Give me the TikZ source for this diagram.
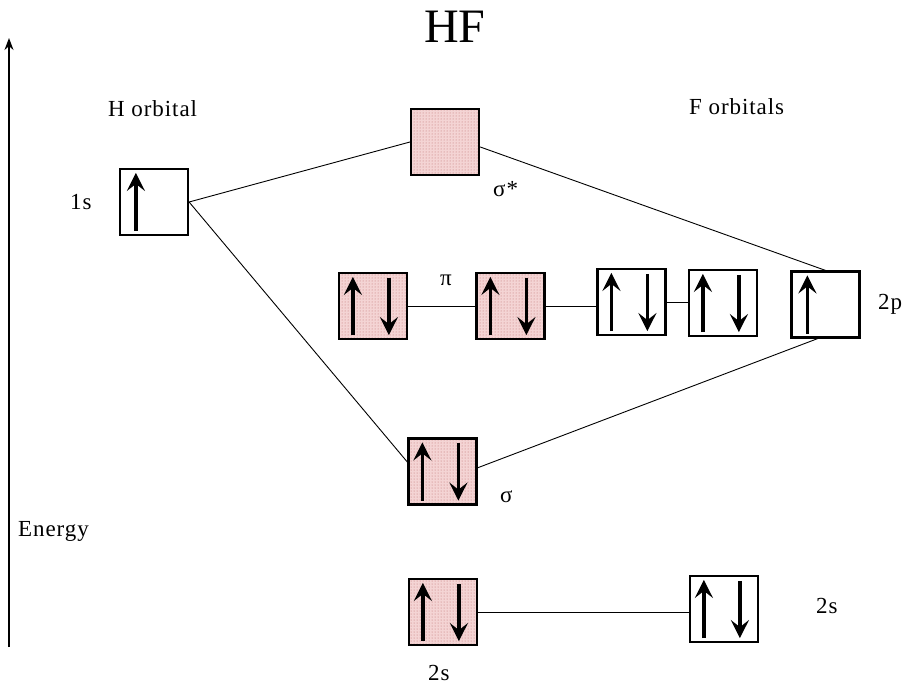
\documentclass[tikz,border=0pt]{standalone}
\usepackage{fontspec}
\setmainfont{Liberation Serif}
\usetikzlibrary{arrows.meta,calc,patterns}

\definecolor{mofill}{RGB}{244,212,212}
\definecolor{modot}{RGB}{190,110,110}

\tikzset{
  orb/.style={draw=black, line width=2.2pt, minimum width=68pt, minimum height=66pt, inner sep=0pt},
  mo/.style={orb, preaction={fill=mofill}, pattern=dots, pattern color=modot},
  ao/.style={orb, fill=white},
  spin/.style={line width=3.4pt, -{Stealth[length=18pt,width=18pt,inset=7pt]}},
  link/.style={line width=0.9pt},
  lbl/.style={font=\fontsize{23}{25}\selectfont\addfontfeature{LetterSpace=4}, anchor=base west, inner sep=0pt},
}

% two paired electrons (up and down) inside an orbital box
\newcommand{\pairarrows}[1]{%
  \draw[spin] ($(#1.south west)+(15,-5)$) -- ($(#1.north west)+(15,5)$);
  \draw[spin] ($(#1.north west)+(51,6)$) -- ($(#1.south west)+(51,-5)$);
}
% one unpaired electron
\newcommand{\singlearrow}[1]{%
  \draw[spin] ($(#1.south west)+(17,-5)$) -- ($(#1.north west)+(17,5)$);
}

\begin{document}
\begin{tikzpicture}[x=1pt,y=-1pt]
\useasboundingbox (0,0) rectangle (902,686);

% energy axis
\coordinate (ebot) at (9,647);
\coordinate (etop) at (9,38);
\draw[line width=1.2pt, -{Stealth[length=12pt,width=9pt]}] (ebot) -- (etop);

% title and headings
\node[anchor=base, inner sep=0pt, font=\fontsize{48}{50}\selectfont] (title) at (455,42) {HF};
\node[lbl] (hhead) at (108,116) {H orbital};
\node[lbl] (fhead) at (689,114) {F orbitals};
\node[lbl] (energy) at (18,536) {Energy};

% orbital boxes
\node[ao] (h1s) at (154,202) {};
\node[mo] (sigstar) at (445,142) {};
\node[mo] (pi1) at (373,306) {};
\node[mo] (pi2) at (510.5,306) {};
\node[ao] (f1) at (631.5,302) {};
\node[ao] (f2) at (723,303) {};
\node[ao] (f2p) at (825.5,304.5) {};
\node[mo] (sig) at (442.5,471.5) {};
\node[mo] (mo2s) at (443,612) {};
\node[ao] (f2s) at (724,609) {};

% correlation lines
\draw[link] (h1s.east) -- (sigstar.west);
\draw[link] (h1s.east) -- (sig.165);
\draw[link] (sigstar.-8) -- (f2p.north);
\draw[link] (sig.6) -- (f2p.-103);
\draw[link] (pi1.east) -- (pi2.west);
\draw[link] (pi2.east) -- (pi2.east -| f1.west);
\draw[link] (f1.east) -- (f1.east -| f2.west);
\draw[link] (mo2s.east) -- (mo2s.east -| f2s.west);

% electrons
\singlearrow{h1s}
\singlearrow{f2p}
\pairarrows{pi1}
\pairarrows{pi2}
\pairarrows{f1}
\pairarrows{f2}
\pairarrows{sig}
\pairarrows{mo2s}
\pairarrows{f2s}

% orbital labels
\node[lbl] (l1s) at (70,209) {1s};
\node[lbl] (lsigstar) at (493,196) {σ*};
\node[lbl] (lpi) at (440,285) {π};
\node[lbl] (l2p) at (878,309) {2p};
\node[lbl] (lsig) at (500,502) {σ};
\node[lbl] (lmo2s) at (428,680) {2s};
\node[lbl] (lf2s) at (816,613) {2s};
\end{tikzpicture}
\end{document}
